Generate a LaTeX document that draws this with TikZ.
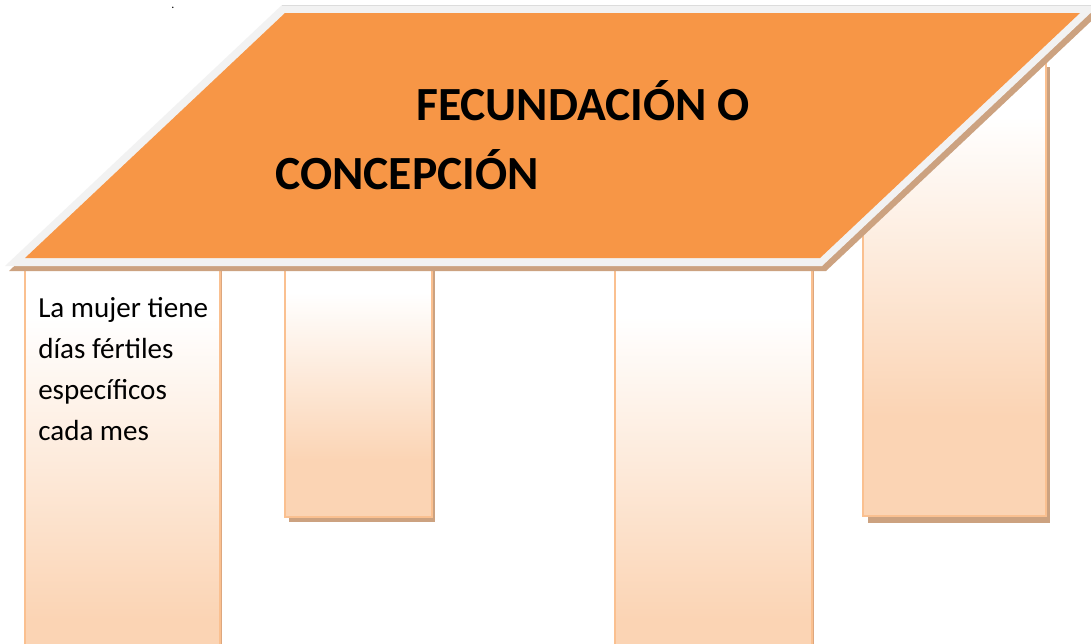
\documentclass[tikz,border=0pt]{standalone}
\usepackage{fontspec}
\setmainfont{Carlito}
\definecolor{roof}{HTML}{F79646}
\definecolor{roofedge}{HTML}{F2F2F2}
\definecolor{roofline}{HTML}{DCDCDC}
\definecolor{tan}{HTML}{CCA280}
\definecolor{colborder}{HTML}{FAC090}
\definecolor{coldark}{HTML}{DDA77E}
\definecolor{peach}{HTML}{FBD4B4}
\pgfdeclareverticalshading{colshade}{100bp}{color(0bp)=(peach); color(25bp)=(peach); color(36bp)=(peach); color(69bp)=(white); color(100bp)=(white)}
\tikzset{
  colshadow/.style={fill=tan, draw=none},
  colbox/.style={shading=colshade, draw=colborder, line width=1.5pt},
  coldarkedge/.style={draw=coldark, line width=1.2pt},
  titletext/.style={font=\bfseries\fontsize{35.7}{40}\selectfont, anchor=base west, inner sep=0pt},
  bodytext/.style={font=\fontsize{21.8}{30.75}\selectfont, anchor=base west, inner sep=0pt, align=left}
}
\begin{document}
\begin{tikzpicture}[x=0.75pt, y=-0.75pt]
\useasboundingbox (0,0) rectangle (1091,643);
\clip (0,0) rectangle (1091,643);
\fill[white] (0,0) rectangle (1091,643);
% column shadows
\fill[colshadow] (289,266) rectangle (435,522);
\fill[colshadow] (868,67) rectangle (1050,523);
% columns
\path[colbox] (25,262) rectangle (220,720);
\draw[coldarkedge] (221.5,262) -- (221.5,720);
\path[colbox] (285,262) rectangle (432,517);
\path[colbox] (615,262) rectangle (812,720);
\draw[coldarkedge] (813.5,262) -- (813.5,720);
\path[colbox] (863,62) rectangle (1046,516);
% roof shadow, edge and face
\fill[tan] (9,271) -- (286,10) -- (1103,10) -- (826,271) -- cycle;
\fill[roofedge] (5,266) -- (282,5) -- (1099,5) -- (822,266) -- cycle;
\draw[roofline, line width=0.8pt] (282,5.4) -- (1099,5.4);
\fill[roof] (25,258) -- (285,13) -- (1080,13) -- (820,258) -- cycle;
% texts
\node[titletext] (t1) at (416,120) {FECUNDACIÓN O};
\node[titletext] (t2) at (275,189) {CONCEPCIÓN};
\node[bodytext] (b1) at (38,440) {La mujer tiene\\días fértiles\\específicos\\cada mes};
\node[font=\fontsize{9}{10}\selectfont, anchor=base, inner sep=0pt] (dot) at (173,8) {.};
\end{tikzpicture}
\end{document}
